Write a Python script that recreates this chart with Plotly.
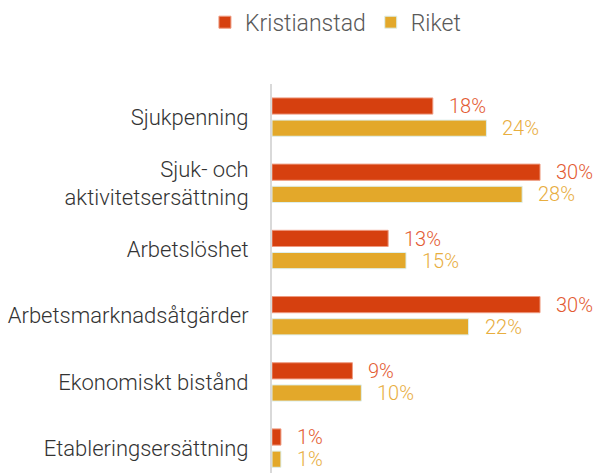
import plotly.graph_objects as go

categories = [
    "Sjukpenning",
    "Sjuk- och<br>aktivitetsersättning",
    "Arbetslöshet",
    "Arbetsmarknadsåtgärder",
    "Ekonomiskt bistånd",
    "Etableringsersättning",
]
kristianstad = [18, 30, 13, 30, 9, 1]
riket = [24, 28, 15, 22, 10, 1]

series = [
    ("Kristianstad", kristianstad, "#D6400F", "#EE9A80", "#E35B32", 11),
    ("Riket", riket, "#E3A82A", "#DDEFEC", "#E8AE3F", -11),
]

FONT = "Roboto"

fig = go.Figure()
annotations = []
for name, vals, color, edge, label_color, shift in series:
    fig.add_trace(go.Bar(
        name=name,
        x=vals,
        y=categories,
        orientation="h",
        marker=dict(color=color, line=dict(color=edge, width=1)),
        hoverinfo="skip",
    ))
    for v, c in zip(vals, categories):
        annotations.append(dict(
            x=v, y=c, xref="x", yref="y",
            text=f"{v}%", showarrow=False,
            xanchor="left", yanchor="middle",
            xshift=14, yshift=shift,
            font=dict(family=FONT, size=20, color=label_color, weight=300),
        ))

fig.update_layout(
    width=599,
    height=473,
    margin=dict(l=272, r=0, t=84, b=0),
    paper_bgcolor="white",
    plot_bgcolor="white",
    barmode="group",
    bargap=0.33,
    bargroupgap=0.27,
    showlegend=True,
    legend=dict(
        orientation="h",
        xref="container", yref="container",
        x=0.56, y=0.953,
        xanchor="center", yanchor="middle",
        font=dict(family=FONT, size=23, color="#595959", weight=300),
        itemwidth=30,
        traceorder="normal",
    ),
    annotations=annotations,
    xaxis=dict(
        range=[0, 36.6],
        visible=False,
        showgrid=False,
        zeroline=False,
    ),
    yaxis=dict(
        type="category",
        categoryorder="array",
        categoryarray=categories,
        range=[5.376, -0.5],
        showline=True,
        linecolor="#D9D9D9",
        linewidth=2,
        showgrid=False,
        zeroline=False,
        ticks="",
        ticklabelstandoff=17,
        tickfont=dict(family=FONT, size=22, color="#333333", weight=300),
    ),
)

fig.write_html("out.html")
